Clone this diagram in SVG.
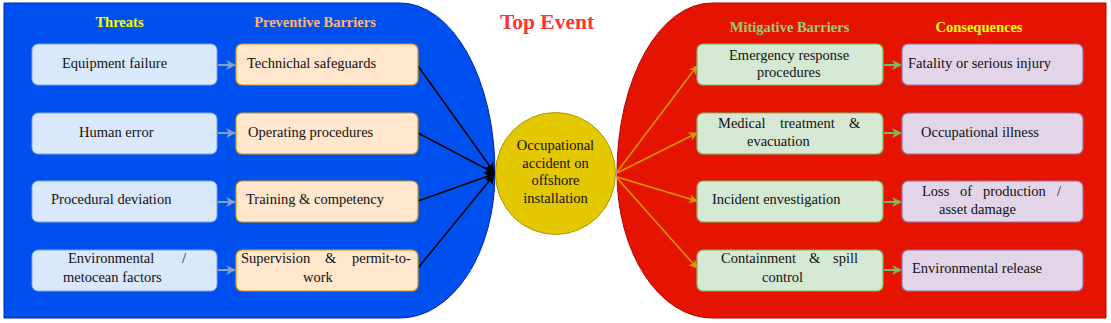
<svg xmlns="http://www.w3.org/2000/svg" width="1111" height="323" viewBox="0 0 1111 323">
<style>
.lbl{font-family:'Liberation Serif','Times New Roman','DejaVu Serif',serif;font-size:14.5px;font-weight:normal;fill:#111}
.hd{font-family:'Liberation Serif','Times New Roman',serif;font-size:14.5px;font-weight:bold;text-anchor:middle}
.thr{fill:#DAE8FC;stroke:#7EA6E0;stroke-width:1}
.prv{fill:#FFE6CC;stroke:#D79B00;stroke-width:1.2}
.mit{fill:#D5E8D4;stroke:#82B366;stroke-width:1.2}
.con{fill:#E1D5E7;stroke:#9673A6;stroke-width:1.2}
</style>
<defs>
<marker id="ab" viewBox="0 0 10 10" refX="9" refY="5" markerWidth="5" markerHeight="5" orient="auto" markerUnits="strokeWidth"><path d="M0,0 L10,5 L0,10 L3,5 Z" fill="#7F9FCC"/></marker>
<marker id="ag" viewBox="0 0 10 10" refX="9" refY="5" markerWidth="5" markerHeight="5" orient="auto" markerUnits="strokeWidth"><path d="M0,0 L10,5 L0,10 L3,5 Z" fill="#82B366"/></marker>
<marker id="ak" viewBox="0 0 10 10" refX="9" refY="5" markerWidth="7" markerHeight="7" orient="auto" markerUnits="strokeWidth"><path d="M0,0 L10,5 L0,10 L3,5 Z" fill="#000"/></marker>
<marker id="ao" viewBox="0 0 10 10" refX="9" refY="5" markerWidth="6" markerHeight="6" orient="auto" markerUnits="strokeWidth"><path d="M0,0 L10,5 L0,10 L3,5 Z" fill="#D79B00"/></marker>
</defs>

<g id="left-zone">
<path d="M4,3 H400 A95,170 0 0 1 495,173 A95,145 0 0 1 400,318 H4 Z" fill="#0050EF" stroke="#001DBC" stroke-width="1"/>
</g>
<g id="right-zone">
<path d="M1106,3 H712 A95,170 0 0 0 617,173 A95,145 0 0 0 712,318 H1106 Z" fill="#E51400" stroke="#B20000" stroke-width="1"/>
</g>

<g id="headers">
<text class="hd" x="119.5" y="27" fill="#FFFF00">Threats</text>
<text class="hd" x="315" y="27" fill="#FFB570">Preventive Barriers</text>
<text class="hd" x="789.5" y="32" fill="#97D077">Mitigative Barriers</text>
<text class="hd" x="979" y="32" fill="#FFFF00">Consequences</text>
<text class="hd" x="547" y="29" font-size="21.5" style="font-size:21.5px" fill="#FF3333">Top Event</text>
</g>

<g id="connectors" fill="none">
<g stroke="#7F9FCC" stroke-width="2" marker-end="url(#ab)">
<line x1="218" y1="65" x2="235" y2="65"/>
<line x1="218" y1="133" x2="235" y2="133"/>
<line x1="218" y1="202" x2="235" y2="202"/>
<line x1="218" y1="270" x2="235" y2="270"/>
</g>
<g stroke="#82B366" stroke-width="2" marker-end="url(#ag)">
<line x1="884" y1="65" x2="901" y2="65"/>
<line x1="884" y1="133" x2="901" y2="133"/>
<line x1="884" y1="202" x2="901" y2="202"/>
<line x1="884" y1="270" x2="901" y2="270"/>
</g>
<g stroke="#000" stroke-width="1.5" marker-end="url(#ak)">
<line x1="418" y1="66" x2="494" y2="172"/>
<line x1="418" y1="133" x2="494" y2="173"/>
<line x1="418" y1="201" x2="494" y2="174"/>
<line x1="418" y1="268" x2="494" y2="175"/>
</g>
<g stroke="#D79B00" stroke-width="1.5" marker-end="url(#ao)">
<line x1="617" y1="172" x2="697" y2="66"/>
<line x1="617" y1="173" x2="697" y2="133"/>
<line x1="617" y1="177" x2="697" y2="201"/>
<line x1="617" y1="178" x2="697" y2="268"/>
</g>
</g>

<g id="top-event">
<ellipse cx="555.5" cy="173.5" rx="60" ry="61" fill="#E3C800" stroke="#B09500" stroke-width="1"/>
<text class="lbl" text-anchor="middle"><tspan x="555.5" y="150">Occupational</tspan><tspan x="555.5" y="168">accident on</tspan><tspan x="555.5" y="185">offshore</tspan><tspan x="555.5" y="203">installation</tspan></text>
</g>

<g id="threat-1"><rect class="thr" x="32" y="44" width="185" height="41" rx="6"/><text class="lbl" x="62" y="68">Equipment failure</text></g>
<g id="threat-2"><rect class="thr" x="32" y="113" width="185" height="41" rx="6"/><text class="lbl" x="79" y="137">Human error</text></g>
<g id="threat-3"><rect class="thr" x="32" y="181" width="185" height="41" rx="6"/><text class="lbl" x="51" y="204">Procedural deviation</text></g>
<g id="threat-4"><rect class="thr" x="32" y="250" width="185" height="41" rx="6"/><text class="lbl"><tspan x="68" y="263">Environmental</tspan><tspan x="182" y="263">/</tspan><tspan x="63" y="282">metocean factors</tspan></text></g>

<g id="prev-1"><rect class="prv" x="236" y="44" width="182" height="41" rx="6"/><text class="lbl" x="247" y="68">Technichal safeguards</text></g>
<g id="prev-2"><rect class="prv" x="236" y="113" width="182" height="41" rx="6"/><text class="lbl" x="248" y="137">Operating procedures</text></g>
<g id="prev-3"><rect class="prv" x="236" y="181" width="182" height="41" rx="6"/><text class="lbl" x="246" y="204">Training &amp; competency</text></g>
<g id="prev-4"><rect class="prv" x="236" y="250" width="182" height="41" rx="6"/><text class="lbl"><tspan x="241" y="263">Supervision</tspan><tspan x="325" y="263">&amp;</tspan><tspan x="352" y="263">permit-to-</tspan><tspan x="303" y="282">work</tspan></text></g>

<g id="mit-1"><rect class="mit" x="697" y="44" width="186" height="41" rx="6"/><text class="lbl"><tspan x="729" y="60">Emergency response</tspan><tspan x="757" y="77">procedures</tspan></text></g>
<g id="mit-2"><rect class="mit" x="697" y="113" width="186" height="41" rx="6"/><text class="lbl"><tspan x="718" y="128">Medical</tspan><tspan x="780" y="128">treatment</tspan><tspan x="849" y="128">&amp;</tspan><tspan x="747" y="146">evacuation</tspan></text></g>
<g id="mit-3"><rect class="mit" x="697" y="181" width="186" height="41" rx="6"/><text class="lbl" x="712" y="204">Incident envestigation</text></g>
<g id="mit-4"><rect class="mit" x="697" y="250" width="186" height="41" rx="6"/><text class="lbl"><tspan x="721" y="263">Containment</tspan><tspan x="809" y="263">&amp;</tspan><tspan x="833" y="263">spill</tspan><tspan x="762" y="282">control</tspan></text></g>

<g id="con-1"><rect class="con" x="902" y="44" width="181" height="41" rx="6"/><text class="lbl" x="908" y="68">Fatality or serious injury</text></g>
<g id="con-2"><rect class="con" x="902" y="113" width="181" height="41" rx="6"/><text class="lbl" x="921" y="137">Occupational illness</text></g>
<g id="con-3"><rect class="con" x="902" y="181" width="181" height="41" rx="6"/><text class="lbl"><tspan x="922" y="196">Loss</tspan><tspan x="960" y="196">of</tspan><tspan x="983" y="196">production</tspan><tspan x="1057" y="196">/</tspan><tspan x="939" y="214">asset damage</tspan></text></g>
<g id="con-4"><rect class="con" x="902" y="250" width="181" height="41" rx="6"/><text class="lbl" x="912" y="273">Environmental release</text></g>
</svg>
